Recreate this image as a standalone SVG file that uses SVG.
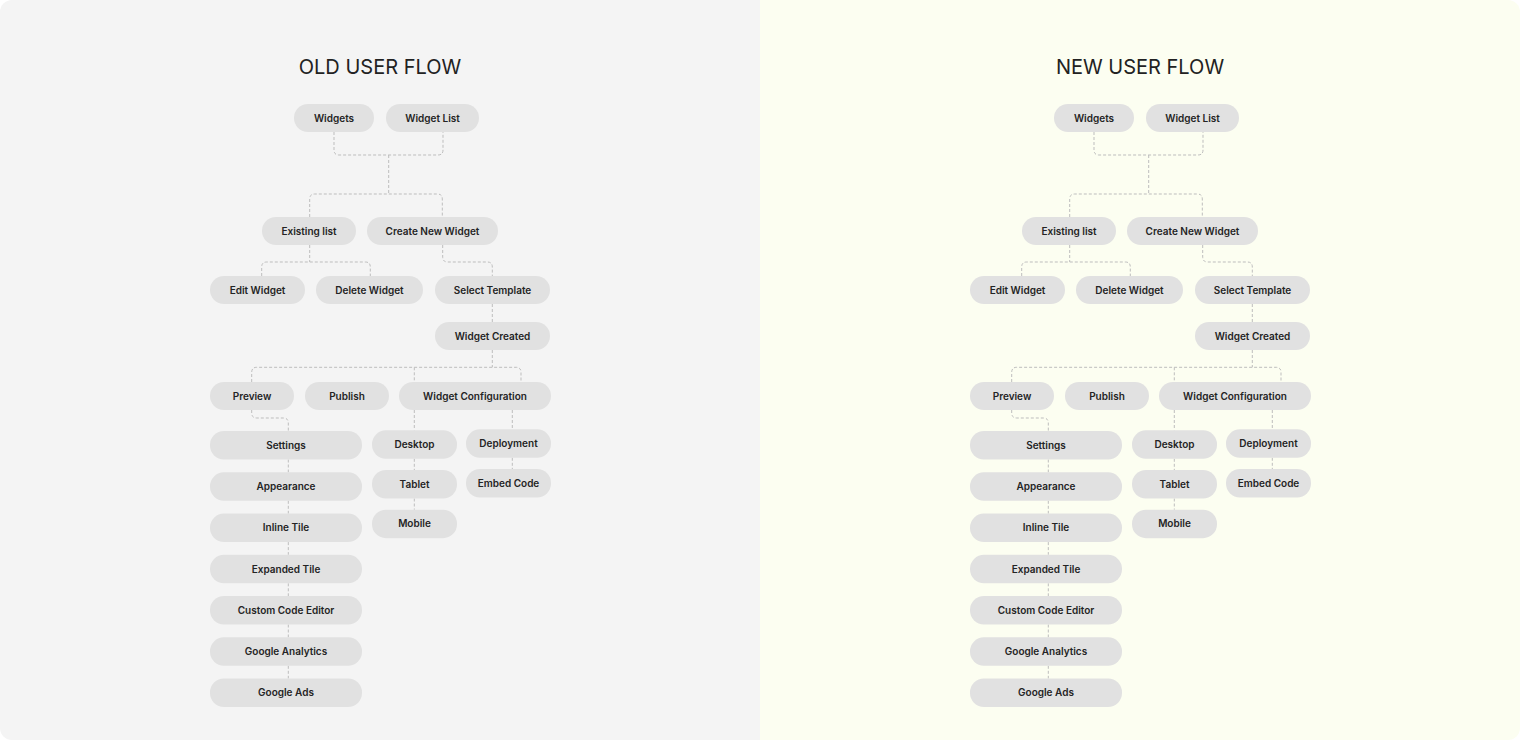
<svg xmlns="http://www.w3.org/2000/svg" width="1520" height="740" viewBox="0 0 1520 740">
<defs>
<clipPath id="frame"><rect x="0" y="0" width="1520" height="740" rx="12" ry="12"/></clipPath>
<style>
.pill{fill:#e1e1e1;}
.lbl{font-family:Inter,"Noto Sans","Liberation Sans",sans-serif;font-size:10px;font-weight:600;fill:#242424;text-anchor:middle;}
.title{font-family:Inter,"Noto Sans","Liberation Sans",sans-serif;font-size:20px;font-weight:400;fill:#222222;text-anchor:middle;}
.con{fill:none;stroke:#bdbdbd;stroke-width:1;stroke-dasharray:3 2;}
</style>
</defs>
<rect width="1520" height="740" fill="#ffffff"/>
<g clip-path="url(#frame)">
<rect x="0" y="0" width="760" height="740" fill="#f4f4f4"/>
<rect x="760" y="0" width="760" height="740" fill="#fcfef1"/>
</g>

<g id="old-flow">
<text id="old-title" class="title" x="380" y="74">OLD USER FLOW</text>
<g id="old-connectors">
<path class="con" d="M334,132 V150 Q334,155 339,155 H438 Q443,155 443,150 V132"/>
<path class="con" d="M388.7,155 V194"/>
<path class="con" d="M309.7,217 V199 Q309.7,194 314.7,194 H437.3 Q442.3,194 442.3,199 V217"/>
<path class="con" d="M309.7,245 V262"/>
<path class="con" d="M261.7,276 V267 Q261.7,262 266.7,262 H365.3 Q370.3,262 370.3,267 V276"/>
<path class="con" d="M442.7,245 V257 Q442.7,262 447.7,262 H487.3 Q492.3,262 492.3,267 V276"/>
<path class="con" d="M492.3,304 V322"/>
<path class="con" d="M492.3,350 V367.3"/>
<path class="con" d="M251.7,382 V372.3 Q251.7,367.3 256.7,367.3 H516 Q521,367.3 521,372.3 V382"/>
<path class="con" d="M414.3,367.3 V382"/>
<path class="con" d="M251.7,410 V413 Q251.7,418 256.7,418 H283.3 Q288.3,418 288.3,423 V431"/>
<path class="con" d="M288.3,459.5 V472.3 M288.3,500.8 V513.6 M288.3,542.1 V554.8 M288.3,583.3 V596 M288.3,624.5 V637.3 M288.3,665.8 V678.5"/>
<path class="con" d="M414.3,410 V430.3 M414.3,458.8 V470 M414.3,498.5 V509.7"/>
<path class="con" d="M512.3,410 V429.3 M512.3,457.8 V469"/>
</g>
<g id="old-widgets"><rect class="pill" x="294" y="104" width="80" height="28" rx="14"/><text class="lbl" x="334" y="121.5">Widgets</text></g>
<g id="old-widget-list"><rect class="pill" x="386" y="104" width="93" height="28" rx="14"/><text class="lbl" x="432.5" y="121.5">Widget List</text></g>
<g id="old-existing-list"><rect class="pill" x="262" y="217" width="94" height="28" rx="14"/><text class="lbl" x="309" y="234.5">Existing list</text></g>
<g id="old-create-new-widget"><rect class="pill" x="367" y="217" width="131" height="28" rx="14"/><text class="lbl" x="432.5" y="234.5">Create New Widget</text></g>
<g id="old-edit-widget"><rect class="pill" x="210" y="276" width="95" height="28" rx="14"/><text class="lbl" x="257.5" y="293.5">Edit Widget</text></g>
<g id="old-delete-widget"><rect class="pill" x="316" y="276" width="107" height="28" rx="14"/><text class="lbl" x="369.5" y="293.5">Delete Widget</text></g>
<g id="old-select-template"><rect class="pill" x="435" y="276" width="115" height="28" rx="14"/><text class="lbl" x="492.5" y="293.5">Select Template</text></g>
<g id="old-widget-created"><rect class="pill" x="435" y="322" width="115" height="28" rx="14"/><text class="lbl" x="492.5" y="339.5">Widget Created</text></g>
<g id="old-preview"><rect class="pill" x="210" y="382" width="84" height="28" rx="14"/><text class="lbl" x="252" y="399.5">Preview</text></g>
<g id="old-publish"><rect class="pill" x="305" y="382" width="84" height="28" rx="14"/><text class="lbl" x="347" y="399.5">Publish</text></g>
<g id="old-widget-configuration"><rect class="pill" x="399" y="382" width="152" height="28" rx="14"/><text class="lbl" x="475" y="399.5">Widget Configuration</text></g>
<g id="old-settings"><rect class="pill" x="210" y="431" width="152" height="28.5" rx="14"/><text class="lbl" x="286" y="448.7">Settings</text></g>
<g id="old-appearance"><rect class="pill" x="210" y="472.3" width="152" height="28.5" rx="14"/><text class="lbl" x="286" y="490">Appearance</text></g>
<g id="old-inline-tile"><rect class="pill" x="210" y="513.6" width="152" height="28.5" rx="14"/><text class="lbl" x="286" y="531.3">Inline Tile</text></g>
<g id="old-expanded-tile"><rect class="pill" x="210" y="554.8" width="152" height="28.5" rx="14"/><text class="lbl" x="286" y="572.5">Expanded Tile</text></g>
<g id="old-custom-code-editor"><rect class="pill" x="210" y="596" width="152" height="28.5" rx="14"/><text class="lbl" x="286" y="613.7">Custom Code Editor</text></g>
<g id="old-google-analytics"><rect class="pill" x="210" y="637.3" width="152" height="28.5" rx="14"/><text class="lbl" x="286" y="655">Google Analytics</text></g>
<g id="old-google-ads"><rect class="pill" x="210" y="678.5" width="152" height="28.5" rx="14"/><text class="lbl" x="286" y="696.2">Google Ads</text></g>
<g id="old-desktop"><rect class="pill" x="372" y="430.3" width="85" height="28.5" rx="14"/><text class="lbl" x="414.5" y="448">Desktop</text></g>
<g id="old-tablet"><rect class="pill" x="372" y="470" width="85" height="28.5" rx="14"/><text class="lbl" x="414.5" y="487.7">Tablet</text></g>
<g id="old-mobile"><rect class="pill" x="372" y="509.7" width="85" height="28.5" rx="14"/><text class="lbl" x="414.5" y="527.4">Mobile</text></g>
<g id="old-deployment"><rect class="pill" x="466" y="429.3" width="85" height="28.5" rx="14"/><text class="lbl" x="508.5" y="447">Deployment</text></g>
<g id="old-embed-code"><rect class="pill" x="466" y="469" width="85" height="28.5" rx="14"/><text class="lbl" x="508.5" y="486.7">Embed Code</text></g>
</g>

<g id="new-flow" transform="translate(760,0)">
<text id="new-title" class="title" x="380" y="74">NEW USER FLOW</text>
<g id="new-connectors">
<path class="con" d="M334,132 V150 Q334,155 339,155 H438 Q443,155 443,150 V132"/>
<path class="con" d="M388.7,155 V194"/>
<path class="con" d="M309.7,217 V199 Q309.7,194 314.7,194 H437.3 Q442.3,194 442.3,199 V217"/>
<path class="con" d="M309.7,245 V262"/>
<path class="con" d="M261.7,276 V267 Q261.7,262 266.7,262 H365.3 Q370.3,262 370.3,267 V276"/>
<path class="con" d="M442.7,245 V257 Q442.7,262 447.7,262 H487.3 Q492.3,262 492.3,267 V276"/>
<path class="con" d="M492.3,304 V322"/>
<path class="con" d="M492.3,350 V367.3"/>
<path class="con" d="M251.7,382 V372.3 Q251.7,367.3 256.7,367.3 H516 Q521,367.3 521,372.3 V382"/>
<path class="con" d="M414.3,367.3 V382"/>
<path class="con" d="M251.7,410 V413 Q251.7,418 256.7,418 H283.3 Q288.3,418 288.3,423 V431"/>
<path class="con" d="M288.3,459.5 V472.3 M288.3,500.8 V513.6 M288.3,542.1 V554.8 M288.3,583.3 V596 M288.3,624.5 V637.3 M288.3,665.8 V678.5"/>
<path class="con" d="M414.3,410 V430.3 M414.3,458.8 V470 M414.3,498.5 V509.7"/>
<path class="con" d="M512.3,410 V429.3 M512.3,457.8 V469"/>
</g>
<g id="new-widgets"><rect class="pill" x="294" y="104" width="80" height="28" rx="14"/><text class="lbl" x="334" y="121.5">Widgets</text></g>
<g id="new-widget-list"><rect class="pill" x="386" y="104" width="93" height="28" rx="14"/><text class="lbl" x="432.5" y="121.5">Widget List</text></g>
<g id="new-existing-list"><rect class="pill" x="262" y="217" width="94" height="28" rx="14"/><text class="lbl" x="309" y="234.5">Existing list</text></g>
<g id="new-create-new-widget"><rect class="pill" x="367" y="217" width="131" height="28" rx="14"/><text class="lbl" x="432.5" y="234.5">Create New Widget</text></g>
<g id="new-edit-widget"><rect class="pill" x="210" y="276" width="95" height="28" rx="14"/><text class="lbl" x="257.5" y="293.5">Edit Widget</text></g>
<g id="new-delete-widget"><rect class="pill" x="316" y="276" width="107" height="28" rx="14"/><text class="lbl" x="369.5" y="293.5">Delete Widget</text></g>
<g id="new-select-template"><rect class="pill" x="435" y="276" width="115" height="28" rx="14"/><text class="lbl" x="492.5" y="293.5">Select Template</text></g>
<g id="new-widget-created"><rect class="pill" x="435" y="322" width="115" height="28" rx="14"/><text class="lbl" x="492.5" y="339.5">Widget Created</text></g>
<g id="new-preview"><rect class="pill" x="210" y="382" width="84" height="28" rx="14"/><text class="lbl" x="252" y="399.5">Preview</text></g>
<g id="new-publish"><rect class="pill" x="305" y="382" width="84" height="28" rx="14"/><text class="lbl" x="347" y="399.5">Publish</text></g>
<g id="new-widget-configuration"><rect class="pill" x="399" y="382" width="152" height="28" rx="14"/><text class="lbl" x="475" y="399.5">Widget Configuration</text></g>
<g id="new-settings"><rect class="pill" x="210" y="431" width="152" height="28.5" rx="14"/><text class="lbl" x="286" y="448.7">Settings</text></g>
<g id="new-appearance"><rect class="pill" x="210" y="472.3" width="152" height="28.5" rx="14"/><text class="lbl" x="286" y="490">Appearance</text></g>
<g id="new-inline-tile"><rect class="pill" x="210" y="513.6" width="152" height="28.5" rx="14"/><text class="lbl" x="286" y="531.3">Inline Tile</text></g>
<g id="new-expanded-tile"><rect class="pill" x="210" y="554.8" width="152" height="28.5" rx="14"/><text class="lbl" x="286" y="572.5">Expanded Tile</text></g>
<g id="new-custom-code-editor"><rect class="pill" x="210" y="596" width="152" height="28.5" rx="14"/><text class="lbl" x="286" y="613.7">Custom Code Editor</text></g>
<g id="new-google-analytics"><rect class="pill" x="210" y="637.3" width="152" height="28.5" rx="14"/><text class="lbl" x="286" y="655">Google Analytics</text></g>
<g id="new-google-ads"><rect class="pill" x="210" y="678.5" width="152" height="28.5" rx="14"/><text class="lbl" x="286" y="696.2">Google Ads</text></g>
<g id="new-desktop"><rect class="pill" x="372" y="430.3" width="85" height="28.5" rx="14"/><text class="lbl" x="414.5" y="448">Desktop</text></g>
<g id="new-tablet"><rect class="pill" x="372" y="470" width="85" height="28.5" rx="14"/><text class="lbl" x="414.5" y="487.7">Tablet</text></g>
<g id="new-mobile"><rect class="pill" x="372" y="509.7" width="85" height="28.5" rx="14"/><text class="lbl" x="414.5" y="527.4">Mobile</text></g>
<g id="new-deployment"><rect class="pill" x="466" y="429.3" width="85" height="28.5" rx="14"/><text class="lbl" x="508.5" y="447">Deployment</text></g>
<g id="new-embed-code"><rect class="pill" x="466" y="469" width="85" height="28.5" rx="14"/><text class="lbl" x="508.5" y="486.7">Embed Code</text></g>
</g>
</svg>
